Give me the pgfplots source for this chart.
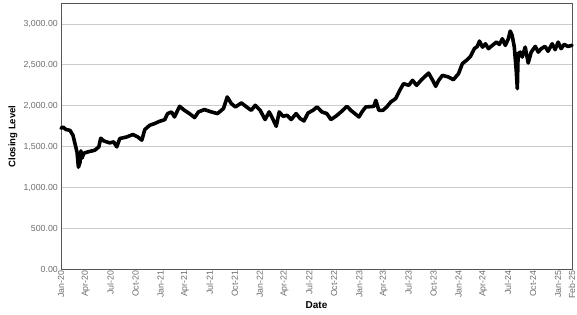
\documentclass[border=0pt]{standalone}
\usepackage{pgfplots}
\pgfplotsset{compat=1.18}
\usepackage{pgfplotstable}
\usepackage{fontspec}
\setmainfont{Liberation Sans}
\definecolor{gridgray}{HTML}{CCCCCC}
\definecolor{ticktext}{HTML}{6E6E6E}
\definecolor{axisgray}{HTML}{555555}
\pgfplotstableread{
day value
0 1726
8 1740
18 1710
33 1700
44 1640
51 1543
59 1433
64 1250
70 1310
73 1450
77 1360
84 1420
99 1437
124 1457
139 1498
146 1604
157 1571
179 1547
194 1559
205 1498
216 1600
242 1620
264 1649
282 1620
297 1580
308 1710
326 1762
344 1783
362 1810
381 1830
392 1905
406 1925
417 1864
436 1994
450 1954
472 1905
491 1856
505 1925
527 1954
553 1925
575 1905
597 1966
611 2108
626 2027
641 1986
663 2035
685 1978
699 1945
714 2006
732 1945
750 1832
765 1925
776 1856
791 1750
802 1925
816 1872
831 1884
846 1832
864 1905
879 1844
893 1815
908 1913
926 1945
941 1986
959 1925
977 1905
992 1832
1010 1872
1029 1925
1051 1994
1065 1945
1080 1905
1095 1864
1106 1925
1120 1986
1139 1990
1150 1994
1157 2067
1168 1945
1183 1945
1197 1986
1212 2047
1230 2088
1245 2189
1259 2271
1278 2250
1292 2311
1307 2250
1325 2319
1351 2400
1366 2311
1377 2238
1388 2311
1402 2372
1424 2352
1442 2319
1461 2393
1475 2515
1490 2555
1505 2604
1519 2698
1530 2726
1538 2791
1549 2717
1560 2758
1571 2698
1585 2738
1600 2778
1611 2750
1622 2819
1633 2738
1644 2819
1651 2913
1658 2860
1666 2717
1673 2433
1677 2210
1680 2637
1688 2656
1695 2595
1706 2717
1717 2523
1728 2656
1743 2726
1754 2656
1765 2698
1779 2726
1790 2666
1805 2758
1816 2686
1827 2778
1838 2698
1849 2750
1863 2726
1878 2738
}\closing
\begin{document}
\begin{tikzpicture}
\path[use as bounding box] (-61pt,-45.5pt) rectangle (516pt,269.5pt);
\begin{axis}[
  at={(0,0)}, anchor=south west,
  scale only axis,
  width=511pt, height=266pt,
  xmin=0, xmax=1878,
  ymin=0, ymax=3250,
  xtick={0,91,182,274,366,456,547,639,731,821,912,1004,1096,1186,1277,1369,1461,1552,1643,1735,1827,1878},
  xticklabels={Jan-20,Apr-20,Jul-20,Oct-20,Jan-21,Apr-21,Jul-21,Oct-21,Jan-22,Apr-22,Jul-22,Oct-22,Jan-23,Apr-23,Jul-23,Oct-23,Jan-24,Apr-24,Jul-24,Oct-24,Jan-25,Feb-25},
  xticklabel style={rotate=90, anchor=east, font=\fontsize{8.8}{9}\selectfont, text=ticktext, inner sep=0.8pt},
  ytick={0,500,1000,1500,2000,2500,3000},
  yticklabels={0.00,500.00,{1,000.00},{1,500.00},{2,000.00},{2,500.00},{3,000.00}},
  yticklabel style={font=\fontsize{8.8}{9}\selectfont, text=ticktext, inner sep=1pt, xshift=-2pt},
  major tick length=0pt,
  ymajorgrids,
  grid style={gridgray, line width=0.9pt},
  axis line style={axisgray, line width=0.8pt},
  xlabel={\textbf{Date}},
  ylabel={\textbf{Closing Level}},
  xlabel style={font=\fontsize{10}{12}\selectfont, at={(axis description cs:0.5,-0.135)}, anchor=center},
  ylabel style={font=\fontsize{9.5}{11}\selectfont, at={(axis description cs:-0.094,0.5)}, anchor=center},
  clip=false,
]
\addplot[black, line width=3.6pt, line join=round, line cap=round] table[x=day, y=value] {\closing};
\end{axis}
\end{tikzpicture}
\end{document}
